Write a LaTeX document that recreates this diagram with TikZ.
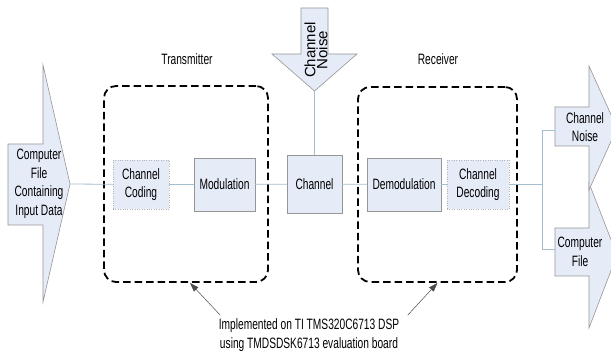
\documentclass[tikz,border=0pt]{standalone}
\usepackage{fontspec}
\setmainfont[FakeStretch=0.68]{Liberation Sans}
\newfontfamily\noisefont{Liberation Sans}
\usetikzlibrary{arrows.meta}

\definecolor{boxfill}{RGB}{230,235,248}
\definecolor{boxline}{RGB}{150,150,150}
\definecolor{wirecol}{RGB}{165,190,205}

\tikzset{
  txt/.style={font=\fontsize{15}{18.5}\selectfont, align=center},
  block/.style={txt, draw=boxline, fill=boxfill, inner sep=0pt},
  dotblock/.style={block, draw=boxline!70, dotted},
  bigarrow/.style={draw=boxline, fill=boxfill, line width=0.6pt},
  unit/.style={draw=black, line width=1.8pt, dash pattern=on 7.5pt off 4pt, rounded corners=12pt},
  wire/.style={draw=wirecol, line width=0.8pt},
  note/.style={draw=black!70, line width=0.5pt, -{Triangle[length=9pt,width=6pt]}}
}

\begin{document}
\begin{tikzpicture}[x=1pt,y=-1pt]
\useasboundingbox (0,0) rectangle (611,358);
\clip (0,0) rectangle (611,358);

% DSP boards
\node[unit, minimum width=164pt, minimum height=196pt] (tx) at (186,184) {};
\node[unit, minimum width=159pt, minimum height=195pt] (rx) at (437.5,184.5) {};
\node[txt, anchor=base] (txlabel) at (187,65) {Transmitter};
\node[txt, anchor=base] (rxlabel) at (438,65) {Receiver};

% input file
\draw[bigarrow] (8,144) -- (43,144) -- (43,65) -- (70,184) -- (43,302) -- (43,225) -- (8,225) -- cycle;
\node[txt] (src) at (39,184) {Computer\\File\\Containing\\Input Data};
\coordinate (srcTip) at (70,184);

% noise from the top
\draw[bigarrow] (301,8) -- (328,8) -- (328,54) -- (357,54) -- (314.5,91) -- (272,54) -- (301,54) -- cycle;
\node[rotate=90, align=center, font=\noisefont\fontsize{15}{12}\selectfont] (noise) at (316,50) {Channel\\Noise};
\coordinate (noiseTip) at (314.5,91);

% outputs
\draw[bigarrow] (555,228) -- (589,228) -- (589,183) -- (617,255) -- (589,328) -- (589,276) -- (555,276) -- cycle;
\draw[bigarrow] (555,107) -- (589,107) -- (589,66) -- (617,128) -- (589,190) -- (589,146) -- (555,146) -- cycle;
\node[txt] (outnoise) at (585,127) {Channel\\Noise};
\node[txt] (outfile) at (580,252) {Computer\\File};
\coordinate (outTop) at (555,130);
\coordinate (outBot) at (555,249);

% blocks
\node[dotblock, minimum width=56pt, minimum height=49pt] (code) at (141,184.5) {Channel\\Coding};
\node[block, minimum width=61pt, minimum height=53pt] (mod) at (224.5,184.5) {Modulation};
\node[block, minimum width=55pt, minimum height=58pt] (chan) at (314.5,184) {Channel};
\node[block, minimum width=74pt, minimum height=53pt] (demod) at (404,184.5) {Demodulation};
\node[dotblock, minimum width=62pt, minimum height=49pt] (decode) at (478,184.5) {Channel\\Decoding};

\draw[wire] (srcTip) -- (code);
\draw[wire] (code) -- (mod);
\draw[wire] (mod) -- (chan);
\draw[wire] (chan) -- (demod);
\draw[wire] (demod) -- (decode);
\draw[wire] (noiseTip) -- (chan);
\draw[wire] (decode.east) -- ++(33,0) coordinate (split);
\draw[wire] (split) |- (outTop);
\draw[wire] (split) |- (outBot);

% implementation note
\node[txt] (impl) at (309,335) {Implemented on TI TMS320C6713 DSP\\using TMDSDSK6713 evaluation board};
\draw[note] ([xshift=5pt]impl.north west) -- ([xshift=4pt]tx.south);
\draw[note] ([xshift=5pt]impl.north east) -- (rx.south);

\end{tikzpicture}
\end{document}
